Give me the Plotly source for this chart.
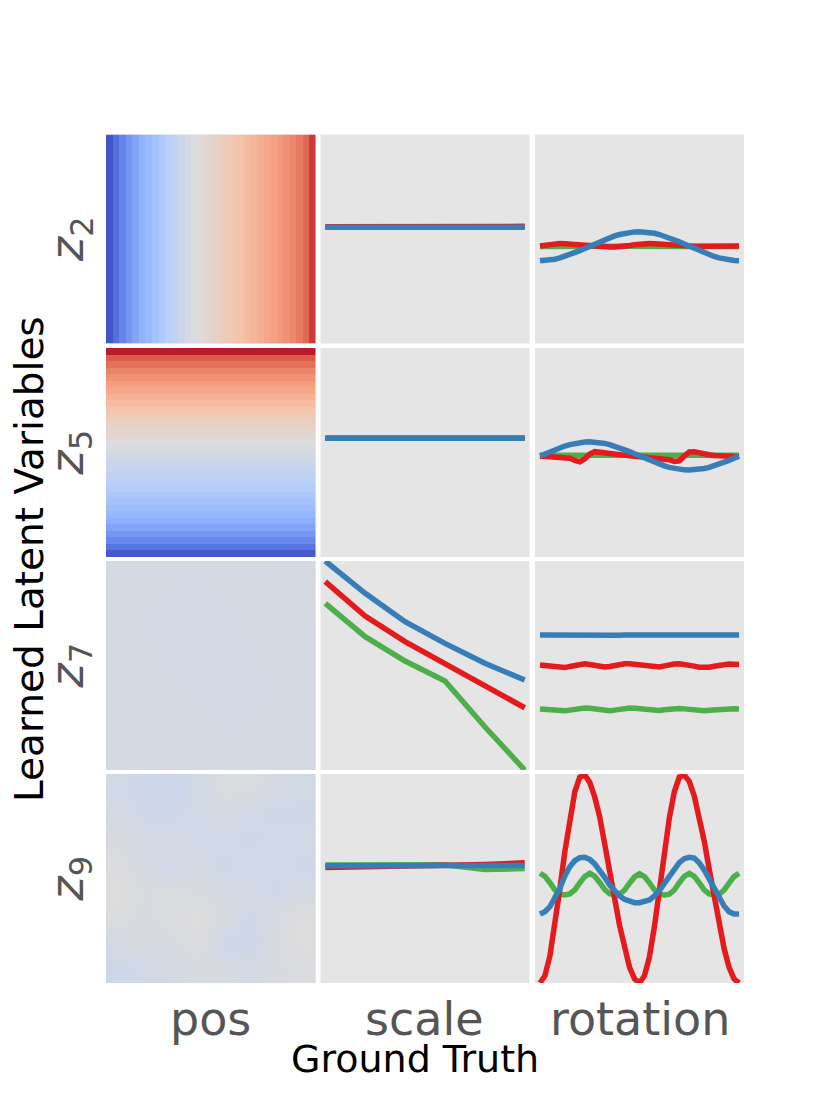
import plotly.graph_objects as go

GREEN = "#4daf4a"
RED = "#e41a1c"
BLUE = "#377eb8"

factor_labels = ["pos", "scale", "rotation"]
latent_labels = ["<i>z</i><sub>2</sub>", "<i>z</i><sub>5</sub>", "<i>z</i><sub>7</sub>", "<i>z</i><sub>9</sub>"]

# ground-truth factor steps
scale_steps = [0, 1, 2, 3, 4, 5]
rotation_deg = list(range(0, 361, 9))

# pos column: mean latent value over the 32x32 position grid (normalised 0..1)
pos_z2 = [0.02, 0.08, 0.13, 0.18, 0.22, 0.26, 0.29, 0.32, 0.35, 0.38, 0.41, 0.44, 0.47, 0.49, 0.51, 0.53,
          0.55, 0.57, 0.59, 0.61, 0.63, 0.65, 0.67, 0.69, 0.71, 0.73, 0.75, 0.77, 0.79, 0.82, 0.86, 0.93]
pos_z5 = [0.97, 0.88, 0.84, 0.80, 0.77, 0.74, 0.71, 0.68, 0.65, 0.62, 0.59, 0.56, 0.54, 0.52, 0.50, 0.48,
          0.46, 0.44, 0.42, 0.40, 0.38, 0.36, 0.34, 0.32, 0.30, 0.28, 0.25, 0.22, 0.18, 0.14, 0.09, 0.03]
pos_z7 = [
    [0.470, 0.469, 0.468, 0.470, 0.472, 0.473],
    [0.469, 0.467, 0.466, 0.468, 0.470, 0.472],
    [0.470, 0.468, 0.465, 0.466, 0.469, 0.471],
    [0.471, 0.470, 0.467, 0.465, 0.468, 0.470],
    [0.472, 0.471, 0.469, 0.467, 0.468, 0.469],
    [0.471, 0.472, 0.471, 0.470, 0.469, 0.470],
]
pos_z9 = [
    [0.46, 0.44, 0.43, 0.46, 0.49, 0.49, 0.47, 0.46],
    [0.47, 0.45, 0.45, 0.46, 0.47, 0.46, 0.45, 0.45],
    [0.48, 0.47, 0.47, 0.46, 0.46, 0.45, 0.46, 0.46],
    [0.49, 0.47, 0.46, 0.47, 0.45, 0.46, 0.46, 0.45],
    [0.50, 0.48, 0.49, 0.48, 0.47, 0.47, 0.45, 0.47],
    [0.49, 0.48, 0.49, 0.50, 0.48, 0.45, 0.48, 0.50],
    [0.47, 0.48, 0.48, 0.49, 0.45, 0.44, 0.48, 0.50],
    [0.44, 0.46, 0.47, 0.48, 0.48, 0.47, 0.48, 0.49],
]

# scale column (one value per scale step)
z2_scale_green = [0.113, 0.113, 0.114, 0.114, 0.114, 0.115]
z2_scale_red = [0.118, 0.118, 0.119, 0.119, 0.120, 0.121]
z2_scale_blue = [0.112, 0.112, 0.112, 0.113, 0.113, 0.113]
z5_scale_green = [0.136, 0.136, 0.136, 0.136, 0.136, 0.136]
z5_scale_red = [0.137, 0.137, 0.137, 0.137, 0.137, 0.137]
z5_scale_blue = [0.136, 0.136, 0.136, 0.136, 0.137, 0.137]
z7_scale_green = [0.595, 0.276, 0.043, -0.148, -0.586, -1.0]
z7_scale_red = [0.802, 0.474, 0.228, 0.021, -0.187, -0.404]
z7_scale_blue = [1.0, 0.691, 0.419, 0.212, 0.021, -0.139]
z9_scale_green = [0.130, 0.130, 0.130, 0.132, 0.085, 0.095]
z9_scale_red = [0.105, 0.110, 0.115, 0.120, 0.135, 0.150]
z9_scale_blue = [0.122, 0.122, 0.123, 0.124, 0.124, 0.125]

# rotation column (one value per rotation step)
z2_rot_green = [-0.072, -0.071, -0.070, -0.070, -0.069, -0.069, -0.070, -0.071, -0.072, -0.072, -0.073,
                -0.073, -0.072, -0.071, -0.070, -0.070, -0.069, -0.069, -0.070, -0.071, -0.072, -0.072,
                -0.071, -0.070, -0.070, -0.069, -0.069, -0.070, -0.071, -0.072, -0.072, -0.073, -0.072,
                -0.071, -0.070, -0.070, -0.069, -0.070, -0.071, -0.072, -0.072]
z2_rot_red = [-0.067, -0.060, -0.050, -0.044, -0.042, -0.045, -0.050, -0.055, -0.058, -0.062, -0.066,
              -0.070, -0.074, -0.076, -0.077, -0.077, -0.075, -0.070, -0.063, -0.055, -0.049, -0.045,
              -0.044, -0.046, -0.050, -0.055, -0.060, -0.063, -0.066, -0.067, -0.068, -0.069, -0.069,
              -0.068, -0.068, -0.067, -0.067, -0.067, -0.067, -0.067, -0.067]
z2_rot_blue = [-0.208, -0.206, -0.201, -0.193, -0.181, -0.167, -0.151, -0.132, -0.112, -0.091, -0.069,
               -0.047, -0.026, -0.006, 0.013, 0.029, 0.043, 0.055, 0.063, 0.068, 0.070, 0.068, 0.063,
               0.055, 0.043, 0.029, 0.013, -0.006, -0.026, -0.047, -0.069, -0.091, -0.112, -0.132,
               -0.151, -0.167, -0.181, -0.193, -0.201, -0.206, -0.208]
z5_rot_green = [-0.026, -0.026, -0.025, -0.025, -0.026, -0.027, -0.028, -0.027, -0.025, -0.024, -0.025,
                -0.026, -0.027, -0.026, -0.025, -0.025, -0.026, -0.027, -0.027, -0.026, -0.025, -0.024,
                -0.025, -0.026, -0.027, -0.027, -0.026, -0.025, -0.024, -0.025, -0.026, -0.027, -0.027,
                -0.026, -0.025, -0.025, -0.026, -0.027, -0.026, -0.025, -0.026]
z5_rot_red = [-0.033, -0.035, -0.037, -0.040, -0.043, -0.046, -0.055, -0.075, -0.088, -0.060, -0.015,
              0.008, 0.002, -0.010, -0.020, -0.025, -0.030, -0.033, -0.035, -0.037, -0.040, -0.044,
              -0.048, -0.052, -0.055, -0.058, -0.070, -0.085, -0.080, -0.035, 0.005, 0.008, -0.005,
              -0.015, -0.022, -0.028, -0.033, -0.035, -0.037, -0.038, -0.040]
z5_rot_blue = [-0.033, -0.012, 0.009, 0.028, 0.046, 0.062, 0.076, 0.087, 0.095, 0.100, 0.102, 0.100,
               0.095, 0.087, 0.076, 0.062, 0.046, 0.028, 0.009, -0.012, -0.033, -0.054, -0.075, -0.094,
               -0.112, -0.128, -0.142, -0.153, -0.161, -0.166, -0.168, -0.166, -0.161, -0.153, -0.142,
               -0.128, -0.112, -0.094, -0.075, -0.054, -0.033]
z7_rot_green = [-0.416, -0.420, -0.426, -0.432, -0.436, -0.434, -0.427, -0.418, -0.410, -0.407, -0.409,
                -0.415, -0.423, -0.430, -0.432, -0.427, -0.418, -0.410, -0.407, -0.409, -0.414, -0.421,
                -0.428, -0.432, -0.430, -0.423, -0.415, -0.411, -0.411, -0.415, -0.421, -0.428, -0.432,
                -0.432, -0.428, -0.423, -0.418, -0.415, -0.414, -0.415, -0.416]
z7_rot_red = [0.005, 0.001, -0.008, -0.016, -0.021, -0.020, -0.009, 0.004, 0.014, 0.017, 0.010, 0.000,
              -0.009, -0.014, -0.009, 0.002, 0.011, 0.016, 0.017, 0.012, 0.004, -0.004, -0.011, -0.016,
              -0.014, -0.004, 0.008, 0.015, 0.017, 0.013, 0.005, -0.006, -0.016, -0.021, -0.017, -0.007,
              0.004, 0.011, 0.014, 0.012, 0.010]
z7_rot_blue = [0.292, 0.291, 0.290, 0.291, 0.292, 0.293, 0.292, 0.290, 0.289, 0.290, 0.292, 0.293, 0.292,
               0.290, 0.288, 0.287, 0.289, 0.291, 0.292, 0.292, 0.291, 0.290, 0.291, 0.293, 0.294, 0.293,
               0.291, 0.290, 0.291, 0.293, 0.294, 0.293, 0.291, 0.290, 0.291, 0.293, 0.293, 0.292, 0.291,
               0.291, 0.292]
z9_rot_green = [0.050, 0.020, -0.040, -0.110, -0.150, -0.158, -0.148, -0.108, -0.042, 0.018, 0.050, 0.022,
                -0.038, -0.105, -0.146, -0.156, -0.150, -0.112, -0.045, 0.015, 0.045, 0.018, -0.042, -0.110,
                -0.150, -0.158, -0.150, -0.110, -0.040, 0.020, 0.048, 0.020, -0.040, -0.108, -0.148, -0.158,
                -0.150, -0.112, -0.044, 0.018, 0.050]
z9_rot_red = [-1.000, -0.930, -0.740, -0.450, -0.100, 0.260, 0.580, 0.830, 0.970, 0.990, 0.920, 0.780,
              0.590, 0.350, 0.080, -0.190, -0.450, -0.680, -0.850, -0.960, -1.000, -0.930, -0.750, -0.460,
              -0.110, 0.250, 0.580, 0.830, 0.970, 0.990, 0.930, 0.790, 0.600, 0.360, 0.090, -0.180, -0.440,
              -0.670, -0.850, -0.960, -1.000]
z9_rot_blue = [-0.340, -0.318, -0.270, -0.190, -0.094, 0.024, 0.113, 0.170, 0.199, 0.203, 0.183, 0.139,
               0.081, 0.011, -0.062, -0.117, -0.167, -0.199, -0.222, -0.231, -0.231, -0.225, -0.206, -0.167,
               -0.117, -0.046, 0.024, 0.094, 0.151, 0.190, 0.203, 0.196, 0.151, 0.081, -0.008, -0.104, -0.190,
               -0.263, -0.318, -0.340, -0.340]

coolwarm = [
    [0.0, "#3b4cc0"], [0.125, "#6282ea"], [0.25, "#8db0fe"], [0.375, "#b8d0f9"],
    [0.5, "#dddcdc"], [0.625, "#f5c4ac"], [0.75, "#f49a7b"], [0.875, "#de604d"], [1.0, "#b40426"],
]

pos_maps = [[pos_z2], [[v] for v in pos_z5], pos_z7, pos_z9]
scale_lines = [
    (z2_scale_green, z2_scale_red, z2_scale_blue),
    (z5_scale_green, z5_scale_red, z5_scale_blue),
    (z7_scale_green, z7_scale_red, z7_scale_blue),
    (z9_scale_green, z9_scale_red, z9_scale_blue),
]
rot_lines = [
    (z2_rot_green, z2_rot_red, z2_rot_blue),
    (z5_rot_green, z5_rot_red, z5_rot_blue),
    (z7_rot_green, z7_rot_red, z7_rot_blue),
    (z9_rot_green, z9_rot_red, z9_rot_blue),
]

# page has an 8px body margin, so the figure is a bit smaller than the window
W, H, OFF = 814, 1091, 8


def px_x(p):
    return (p - OFF) / W


def px_y(p):
    return 1 - (p - OFF) / H


col_px = [(106, 315.5), (320.5, 529.5), (535, 744)]
row_px = [(134.5, 343.5), (348, 557), (561, 770), (774, 983)]
col_dom = [[px_x(a), px_x(b)] for a, b in col_px]
row_dom = [[px_y(b), px_y(a)] for a, b in row_px]

fig = go.Figure()
layout = {}
for r in range(4):
    for c in range(3):
        k = r * 3 + c + 1
        sfx = "" if k == 1 else str(k)
        ax = dict(domain=col_dom[c], showgrid=False, zeroline=False, showticklabels=False,
                  ticks="", showline=False, anchor="y" + sfx)
        ay = dict(domain=row_dom[r], showgrid=False, zeroline=False, showticklabels=False,
                  ticks="", showline=False, anchor="x" + sfx)
        if c == 0:
            z = pos_maps[r]
            fig.add_trace(go.Heatmap(
                z=z, colorscale=coolwarm, zmin=0, zmax=1, showscale=False,
                zsmooth="best" if r >= 2 else False, hoverinfo="skip",
                xaxis="x" + sfx, yaxis="y" + sfx))
            ax["range"] = [-0.5, len(z[0]) - 0.5]
            ay["range"] = [len(z) - 0.5, -0.5]
        else:
            xs = scale_steps if c == 1 else rotation_deg
            lines = scale_lines[r] if c == 1 else rot_lines[r]
            for ys, col in zip(lines, [GREEN, RED, BLUE]):
                fig.add_trace(go.Scatter(
                    x=xs, y=ys, mode="lines", line=dict(color=col, width=5.5),
                    showlegend=False, hoverinfo="skip", xaxis="x" + sfx, yaxis="y" + sfx))
            ax["range"] = [-0.12, 5.12] if c == 1 else [-9, 369]
            ay["range"] = [-1, 1]
        layout["xaxis" + sfx] = ax
        layout["yaxis" + sfx] = ay

annotations = []
for c, lab in enumerate(factor_labels):
    annotations.append(dict(
        text=lab, x=sum(col_dom[c]) / 2, y=px_y(1019), xref="paper", yref="paper",
        showarrow=False, xanchor="center", yanchor="middle",
        font=dict(size=46, color="#555555", family="DejaVu Sans")))
for r, lab in enumerate(latent_labels):
    annotations.append(dict(
        text=lab, x=px_x(70), y=sum(row_dom[r]) / 2, xref="paper", yref="paper",
        showarrow=False, xanchor="center", yanchor="middle", textangle=-90,
        font=dict(size=46, color="#555555", family="DejaVu Sans")))
annotations.append(dict(
    text="Ground Truth", x=px_x(415), y=px_y(1059), xref="paper", yref="paper",
    showarrow=False, xanchor="center", yanchor="middle",
    font=dict(size=38, color="black", family="DejaVu Sans")))
annotations.append(dict(
    text="Learned Latent Variables", x=px_x(29), y=px_y(559), xref="paper", yref="paper",
    showarrow=False, xanchor="center", yanchor="middle", textangle=-90,
    font=dict(size=39, color="black", family="DejaVu Sans")))

fig.update_layout(
    width=W, height=H,
    margin=dict(l=0, r=0, t=0, b=0),
    paper_bgcolor="white", plot_bgcolor="#e5e5e5",
    annotations=annotations,
    **layout,
)

fig.write_html("out.html")
